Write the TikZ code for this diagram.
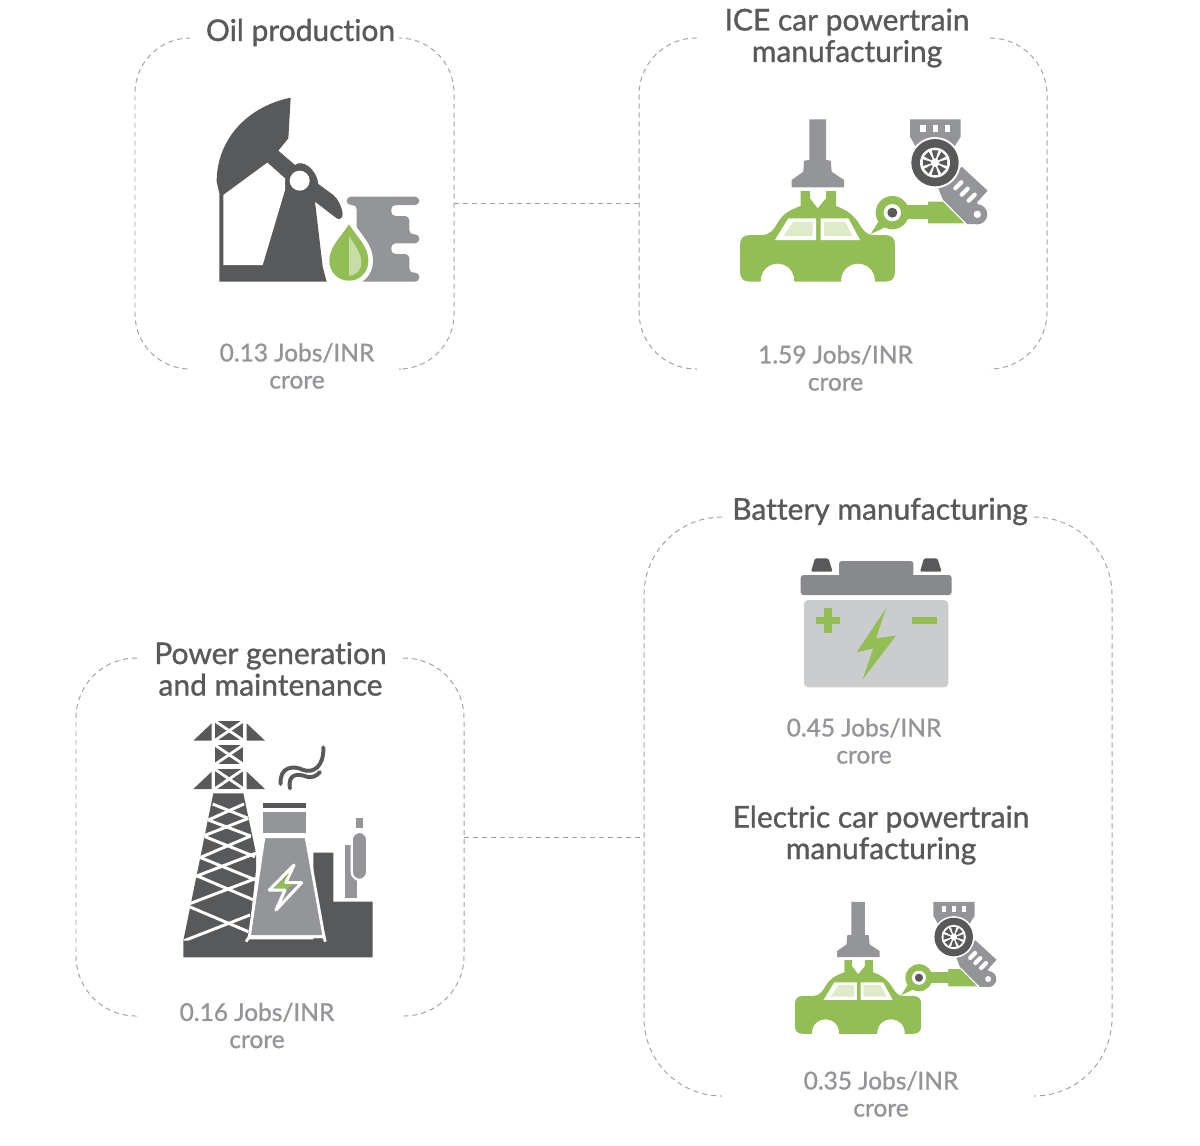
\documentclass[tikz,border=0pt]{standalone}
\usepackage{fontspec}
\newfontfamily\labelfont{Lato}[FakeBold=1.1,Ligatures=NoCommon]
\definecolor{dark}{HTML}{58595B}
\definecolor{midgrey}{HTML}{939598}
\definecolor{lightgrey}{HTML}{CBCCCD}
\definecolor{leaf}{HTML}{93BD55}
\definecolor{paleleaf}{HTML}{DFEAC9}
\definecolor{dashgrey}{HTML}{A0A2A5}
\tikzset{
    frameline/.style={draw=dashgrey,line width=0.7pt,dash pattern=on 3.6pt off 2.8pt},
    framenode/.style={inner sep=0pt},
    titletext/.style={text=dark,align=center,inner sep=0pt,font=\labelfont\fontsize{21.3}{22.4}\selectfont},
    valuetext/.style={text=midgrey,align=center,inner sep=0pt,font=\labelfont\fontsize{17.4}{19.3}\selectfont},
    caricon/.pic={
        % gripper
        \fill[midgrey] (268,58) -- (318,58) -- (318,180) -- (332,182) -- (335,215) -- (372,240) -- (372,262) -- (215,262) -- (215,240) -- (250,215) -- (252,182) -- (268,180) -- cycle;
        % robot arm and tool
        \fill[midgrey] (725,200) -- (803,272) -- (770,308) -- (790,330) -- (775,372) -- (740,372) -- (670,303) -- (655,265) -- cycle;
        \fill[midgrey] (772,343) circle (30);
        \foreach \sx/\sy in {706/265,725/284,746/302}
            \draw[white,line width=3pt,line cap=round] (\sx,\sy) -- ++(18,-18);
        \fill[white] (772,343) circle (11);
        \fill[midgrey] (570,58) -- (722,58) -- (722,110) -- (700,145) -- (590,145) -- (570,110) -- cycle;
        \foreach \sx in {601,638,675}
            \fill[white] (\sx,75) rectangle ++(16,20);
        \fill[white] (645,188) circle (77);
        \fill[dark] (645,188) circle (71);
        \fill[white] (645,188) circle (45);
        \foreach \a in {0,45,...,315}
            \fill[dark,shift={(645,188)}] (\a-12:13) -- (\a-15:38) -- (\a+15:38) -- (\a+12:13) -- cycle;
        % car body
        \fill[leaf] (122,545) -- (90,545) .. controls (70,545) and (60,535) .. (60,515) -- (60,435) .. controls (60,415) and (70,405) .. (90,405) -- (125,405) .. controls (150,405) and (160,390) .. (172,370) .. controls (190,340) and (205,332) .. (242,318) -- (242,273) -- (270,273) -- (270,295) -- (293,325) -- (318,295) -- (318,273) -- (348,273) -- (348,318) .. controls (385,332) and (400,345) .. (418,372) .. controls (430,392) and (440,405) .. (460,405) -- (495,405) .. controls (515,405) and (525,415) .. (525,435) -- (525,515) .. controls (525,535) and (515,545) .. (495,545) -- (465,545) .. controls (465,473) and (363,473) .. (363,545) -- (223,545) .. controls (223,473) and (122,473) .. (122,545) -- cycle;
        \fill[white] (165,420) -- (205,355) -- (288,355) -- (288,420) -- cycle;
        \fill[white] (302,355) -- (385,355) -- (420,420) -- (302,420) -- cycle;
        \fill[paleleaf] (190,408) -- (220,365) -- (278,365) -- (278,408) -- cycle;
        \fill[paleleaf] (312,365) -- (375,365) -- (398,408) -- (312,408) -- cycle;
        % green arm
        \fill[leaf] (475,365) -- (452,402) -- (495,382) -- cycle;
        \draw[white,line width=0.8pt,fill=leaf] (622,372) -- (622,303) -- (670,303) -- (738,372) -- cycle;
        \fill[leaf] (530,316) rectangle (626,358);
        \fill[leaf] (517,338) circle (50);
        \fill[white] (517,338) circle (26);
        \fill[dark] (517,338) circle (15);
    }
}
\begin{document}
\begin{tikzpicture}[x=0.025cm,y=-0.025cm]
    \useasboundingbox (0,0) rectangle (1200,1145);

    % frames
    \node[framenode,minimum width=7.975cm,minimum height=8.275cm] (oilframe) at (294.5,203.5) {};
    \node[framenode,minimum width=10.2cm,minimum height=8.275cm] (iceframe) at (843,203.5) {};
    \node[framenode,minimum width=9.7cm,minimum height=8.95cm] (powerframe) at (270,837) {};
    \node[framenode,minimum width=11.7cm,minimum height=14.475cm] (batteryframe) at (878,806.5) {};

    \draw[frameline,rounded corners=1.375cm] (189,38) -| (135,369) -- (189,369);
    \draw[frameline,rounded corners=1.375cm] (401,38) -| (454,369) -- (401,369);
    \draw[frameline,rounded corners=1.425cm] (697,38) -| (639,369) -- (697,369);
    \draw[frameline,rounded corners=1.425cm] (990,38) -| (1047,369) -- (990,369);
    \draw[frameline,rounded corners=1.5cm] (137,658) -| (76,1016) -- (137,1016);
    \draw[frameline,rounded corners=1.5cm] (403,658) -| (464,1016) -- (405,1016);
    \draw[frameline,rounded corners=1.95cm] (722,517) -| (644,1096) -- (722,1096);
    \draw[frameline,rounded corners=1.95cm] (1034,517) -| (1112,1096) -- (1034,1096);

    % connectors
    \draw[frameline] (oilframe.east) -- (iceframe.west);
    \draw[frameline] (powerframe.east) -- (powerframe.east -| batteryframe.west);

    % titles
    \node[titletext] (oiltitle) at (300.5,32.5) {Oil production};
    \node[titletext] (icetitle) at (847,38) {ICE car powertrain\\manufacturing};
    \node[titletext] (powertitle) at (270.5,669) {Power generation\\and maintenance};
    \node[titletext] (batterytitle) at (880,511.5) {Battery manufacturing};
    \node[titletext] (electrictitle) at (881,835) {Electric car powertrain\\manufacturing};

    % values
    \node[valuetext] (oilvalue) at (297,366) {0.13 Jobs/INR\\crore};
    \node[valuetext] (icevalue) at (835.5,368) {1.59 Jobs/INR\\crore};
    \node[valuetext] (powervalue) at (257,1025.5) {0.16 Jobs/INR\\crore};
    \node[valuetext] (batteryvalue) at (864,741) {0.45 Jobs/INR\\crore};
    \node[valuetext] (electricvalue) at (881,1094) {0.35 Jobs/INR\\crore};

    % pump jack
    \begin{scope}[shift={(190,80)},scale=1/3]
        \fill[midgrey,rounded corners=3pt] (470,350) -- (688,350) -- (688,375) -- (604,375) -- (604,408) -- (658,408) -- (658,463) -- (688,463) -- (688,490) -- (604,490) -- (604,522) -- (658,522) -- (658,578) -- (688,578) -- (688,605) -- (500,605) -- (500,375) -- (470,375) -- cycle;
        \fill[dark] (302,53) .. controls (170,80) and (80,180) .. (80,305) -- (88,340) -- (88,605) -- (410,605) -- (398,560) -- (375,365) -- (440,415) .. controls (450,420) and (458,415) .. (458,400) .. controls (455,380) and (445,358) .. (430,345) -- (385,312) .. controls (378,262) and (335,238) .. (315,255) -- (265,212) -- (295,175) -- cycle;
        \fill[white] (100,345) -- (232,248) -- (285,295) -- (285,330) -- (218,555) -- (100,555) -- cycle;
        \fill[white] (329,302) circle (30);
        \draw[white,line width=6.6pt,fill=leaf] (477,433) .. controls (450,475) and (418,500) .. (418,542) .. controls (418,578) and (445,602) .. (477,602) .. controls (509,602) and (535,578) .. (535,542) .. controls (535,500) and (504,475) .. (477,433) -- cycle;
        \fill[leaf] (477,433) .. controls (450,475) and (418,500) .. (418,542) .. controls (418,578) and (445,602) .. (477,602) .. controls (509,602) and (535,578) .. (535,542) .. controls (535,500) and (504,475) .. (477,433) -- cycle;
        \fill[paleleaf!70!leaf] (477,468) .. controls (495,495) and (514,520) .. (514,548) .. controls (514,570) and (498,586) .. (477,588) -- cycle;
    \end{scope}

    % ice car plant
    \pic (icecar) [shift={(720,100)},scale=1/3] {caricon};

    % battery
    \begin{scope}[shift={(780,540)},scale=1/3]
        \fill[dark,rounded corners=1pt] (93,95) -- (105,55) -- (145,55) -- (158,95) -- cycle;
        \fill[dark,rounded corners=1pt] (420,95) -- (432,55) -- (472,55) -- (485,95) -- cycle;
        \fill[midgrey!92!black,rounded corners=2pt] (177,110) -- (177,63) -- (400,63) -- (400,110) -- cycle;
        \fill[midgrey!92!black,rounded corners=2pt] (62,105) rectangle (515,165);
        \fill[lightgrey,rounded corners=3pt] (72,180) -- (505,180) -- (505,442) -- (72,442) -- cycle;
        \fill[leaf] (107,230) rectangle (180,252);
        \fill[leaf] (132,205) rectangle (155,280);
        \fill[leaf] (395,232) rectangle (472,252);
        \fill[leaf] (318,205) -- (230,337) -- (280,325) -- (248,418) -- (348,287) -- (288,295) -- cycle;
    \end{scope}

    % electric car plant
    \pic (electriccar) [shift={(778.7,886)},scale=0.2713] {caricon};

    % power plant
    \begin{scope}[shift={(170,710)},scale=1/3]
        \fill[dark] (430,428) -- (490,428) -- (490,575) -- (608,575) -- (608,742) -- (40,742) -- (40,688) -- (430,688) -- cycle;
        \begin{scope}
            \clip (130,250) -- (220,250) -- (258,430) -- (258,480) -- (235,692) -- (40,692) -- cycle;
            \fill[dark] (30,240) rectangle (270,700);
            \foreach \xa/\ya/\xb/\yb in {128/282/235/325,222/282/115/330,115/330/242/378,235/325/100/378,100/378/255/440,242/378/85/445,85/440/262/512,262/428/75/500,75/495/256/572,258/505/62/580,58/590/235/665,240/615/35/695}
                \draw[white,line width=2.1pt] (\xa,\ya) -- (\xb,\yb);
        \end{scope}
        \foreach \ytop in {33,105,178} {
            \fill[dark] (135,\ytop) rectangle ++(85,58);
            \draw[white,line width=2pt] (135,\ytop) -- ++(85,58);
            \draw[white,line width=2pt] (220,\ytop) -- ++(-85,58);
        }
        \foreach \ytop in {40,185} {
            \fill[dark] (125,\ytop) -- (125,\ytop+52) -- (70,\ytop+52) -- cycle;
            \fill[dark] (230,\ytop) -- (230,\ytop+52) -- (285,\ytop+52) -- cycle;
        }
        \draw[dark,line width=2.8pt,line cap=round] (332,222) .. controls (328,170) and (370,165) .. (400,180) .. controls (430,190) and (462,170) .. (460,112);
        \draw[dark,line width=2.8pt,line cap=round] (360,235) .. controls (352,190) and (385,190) .. (410,200) .. controls (425,205) and (440,198) .. (450,186);
        \fill[dark] (280,280) rectangle (408,294);
        \fill[midgrey] (280,305) rectangle (408,370);
        \draw[white,line width=2pt,fill=midgrey] (282,380) -- (408,380) -- (462,680) -- (238,680) -- cycle;
        \draw[white,line width=2pt] (228,695) -- (238,680) -- (462,680) -- (466,695);
        \fill[midgrey] (525,405) rectangle (562,565);
        \fill[midgrey] (558,325) rectangle (580,355);
        \draw[white,line width=1.6pt,fill=midgrey,rounded corners=6pt] (545,365) rectangle (592,510);
        \draw[white,line width=2.2pt,fill=midgrey,line join=round] (372,465) -- (298,540) -- (345,540) -- (318,600) -- (395,518) -- (347,518) -- cycle;
        \fill[leaf] (358,488) -- (312,535) -- (352,535) -- (370,522) -- (338,522) -- cycle;
    \end{scope}
\end{tikzpicture}
\end{document}
